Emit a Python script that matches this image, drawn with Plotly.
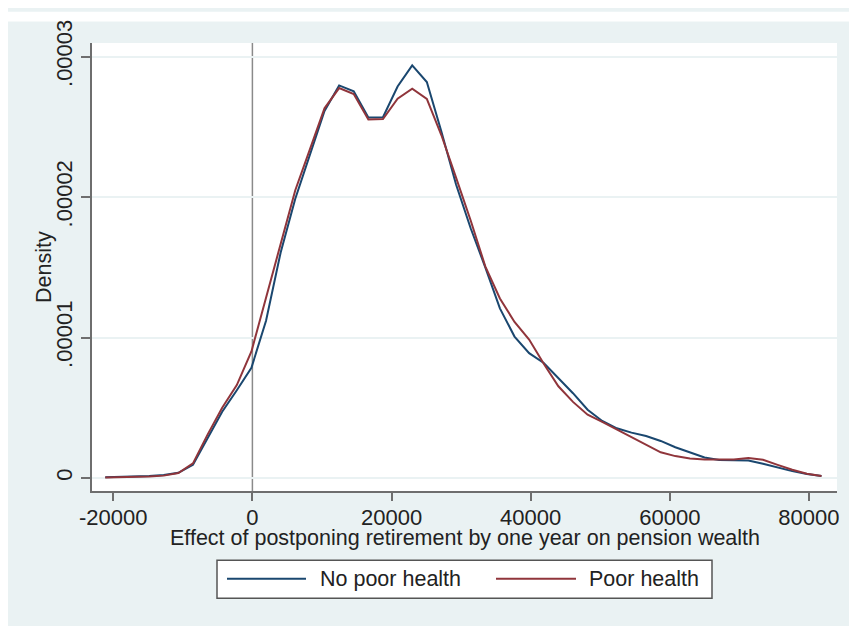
import plotly.graph_objects as go

# ---- data ----
x_points = [-21150, -19049, -16948, -14847, -12746, -10645, -8544, -6443, -4342, -2241,
            -140, 1961, 4062, 6163, 8264, 10365, 12466, 14567, 16668, 18769,
            20870, 22971, 25072, 27173, 29274, 31375, 33476, 35577, 37678, 39779,
            41880, 43981, 46082, 48183, 50284, 52385, 54486, 56587, 58688, 60789,
            62890, 64991, 67092, 69193, 71294, 73395, 75496, 77597, 79698, 81799]

# densities in units of 1e-5
no_poor_health = [0.005, 0.007, 0.010, 0.014, 0.021, 0.037, 0.094, 0.278, 0.472, 0.625,
                  0.785, 1.120, 1.606, 1.988, 2.301, 2.613, 2.795, 2.753, 2.566, 2.569,
                  2.787, 2.938, 2.819, 2.465, 2.090, 1.778, 1.500, 1.208, 1.007, 0.889,
                  0.819, 0.715, 0.604, 0.486, 0.406, 0.354, 0.323, 0.299, 0.264, 0.219,
                  0.181, 0.146, 0.128, 0.126, 0.125, 0.101, 0.073, 0.049, 0.028, 0.014]

poor_health = [0.003, 0.005, 0.007, 0.010, 0.017, 0.035, 0.104, 0.309, 0.500, 0.662,
               0.901, 1.278, 1.653, 2.049, 2.340, 2.632, 2.776, 2.734, 2.552, 2.556,
               2.701, 2.771, 2.699, 2.440, 2.139, 1.833, 1.507, 1.278, 1.111, 0.986,
               0.813, 0.653, 0.542, 0.451, 0.399, 0.344, 0.288, 0.233, 0.183, 0.156,
               0.139, 0.131, 0.131, 0.132, 0.142, 0.130, 0.094, 0.059, 0.031, 0.014]

series_names = ["No poor health", "Poor health"]

x_tick_vals = [-20000, 0, 20000, 40000, 60000, 80000]
x_tick_text = ["-20000", "0", "20000", "40000", "60000", "80000"]
y_tick_vals = [0, 1e-5, 2e-5, 3e-5]
y_tick_text = ["0", ".00001", ".00002", ".00003"]

x_title = "Effect of postponing retirement by one year on pension wealth"
y_title = "Density"

# ---- style ----
OFF = 8                      # page body margin
W, H = 857, 626              # slightly larger than visible area so the grey fills to the edges
L, R, T, B = 84, 28, 24, 143
PW, PH = W - L - R, H - T - B
NAVY = "#1a476f"
MAROON = "#90353b"
BG = "#eaf2f3"
TXT = "#222222"
FONT = "Arial, Liberation Sans, sans-serif"
FS = 21.5
FS_TICK = 22


def px_x(p):
    """screen x (reference pixels) -> paper coordinate"""
    return (p - OFF - L) / PW


def px_y(p):
    """screen y (reference pixels) -> paper coordinate"""
    return (H - B - (p - OFF)) / PH


fig = go.Figure()
fig.add_trace(go.Scatter(x=x_points, y=[v * 1e-5 for v in no_poor_health], mode="lines",
                         name=series_names[0], line=dict(color=NAVY, width=2)))
fig.add_trace(go.Scatter(x=x_points, y=[v * 1e-5 for v in poor_health], mode="lines",
                         name=series_names[1], line=dict(color=MAROON, width=2)))

shapes = [
    # thin white strip at the top of the outer background
    dict(type="rect", xref="paper", yref="paper", x0=px_x(0), x1=px_x(900), y0=px_y(10), y1=px_y(0),
         fillcolor="white", line=dict(width=0), layer="below"),
    # vertical reference line at 0
    dict(type="line", xref="x", yref="paper", x0=0, x1=0, y0=0, y1=1,
         line=dict(color="#8a8a8a", width=1.5), layer="below"),
    # manual legend box
    dict(type="rect", xref="paper", yref="paper", x0=px_x(217), x1=px_x(712), y0=px_y(601), y1=px_y(562),
         fillcolor="white", line=dict(color="#555555", width=1.5)),
    dict(type="line", xref="paper", yref="paper", x0=px_x(227), x1=px_x(306), y0=px_y(581), y1=px_y(581),
         line=dict(color=NAVY, width=2)),
    dict(type="line", xref="paper", yref="paper", x0=px_x(496), x1=px_x(576), y0=px_y(581), y1=px_y(581),
         line=dict(color=MAROON, width=2)),
]

annotations = [
    dict(text=series_names[0], xref="paper", yref="paper", x=px_x(318), y=px_y(581),
         xanchor="left", yanchor="middle", showarrow=False, font=dict(size=FS, color=TXT, family=FONT)),
    dict(text=series_names[1], xref="paper", yref="paper", x=px_x(587), y=px_y(581),
         xanchor="left", yanchor="middle", showarrow=False, font=dict(size=FS, color=TXT, family=FONT)),
    dict(text=x_title, xref="paper", yref="paper", x=0.5, y=px_y(539),
         xanchor="center", yanchor="middle", showarrow=False, font=dict(size=FS, color=TXT, family=FONT)),
    dict(text=y_title, xref="paper", yref="paper", x=px_x(44), y=0.5, textangle=-90,
         xanchor="center", yanchor="middle", showarrow=False, font=dict(size=FS, color=TXT, family=FONT)),
]

fig.update_layout(
    width=W, height=H,
    margin=dict(l=L, r=R, t=T, b=B, pad=0),
    paper_bgcolor=BG, plot_bgcolor="white",
    showlegend=False,
    font=dict(family=FONT, size=FS, color=TXT),
    shapes=shapes, annotations=annotations,
    xaxis=dict(range=[-23056, 84030], tickvals=x_tick_vals, ticktext=x_tick_text,
               showgrid=False, zeroline=False, showline=True, linecolor="#6e6e6e", linewidth=1.5,
               ticks="outside", ticklen=8, tickwidth=1.5, tickcolor="#6e6e6e",
               ticklabelstandoff=-2,
               tickfont=dict(size=FS_TICK, color=TXT, family=FONT)),
    yaxis=dict(range=[-0.0924e-5, 3.097e-5], tickvals=y_tick_vals, ticktext=y_tick_text,
               tickangle=-90, showgrid=True, gridcolor=BG, gridwidth=1.5,
               zeroline=False, showline=True, linecolor="#6e6e6e", linewidth=1.5,
               ticks="outside", ticklen=9, tickwidth=1.5, tickcolor="#6e6e6e",
               tickfont=dict(size=FS_TICK, color=TXT, family=FONT)),
)

fig.write_html("out.html")
